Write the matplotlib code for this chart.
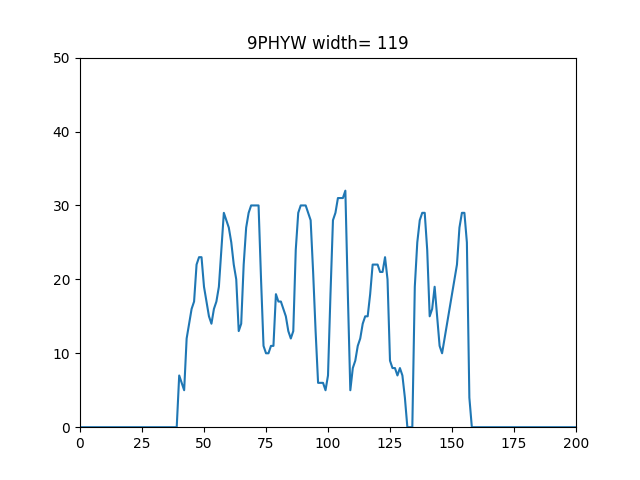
import numpy as np
import matplotlib
matplotlib.use("Agg")
import matplotlib.pyplot as plt

title = "9PHYW width= 119"

# profile values, x = 40 .. 157 (zero elsewhere)
start = 40
profile = [7, 6, 5, 12, 14, 16, 17, 22, 23, 23,
           19, 17, 15, 14, 16, 17, 19, 24, 29, 28,
           27, 25, 22, 20, 13, 14, 22, 27, 29, 30,
           30, 30, 30, 20, 11, 10, 10, 11, 11, 18,
           17, 17, 16, 15, 13, 12, 13, 24, 29, 30,
           30, 30, 29, 28, 21, 13, 6, 6, 6, 5,
           7, 18, 28, 29, 31, 31, 31, 32, 18, 5,
           8, 9, 11, 12, 14, 15, 15, 18, 22, 22,
           22, 21, 21, 23, 20, 9, 8, 8, 7, 8,
           7, 4, 0, 0, 0, 19, 25, 28, 29, 29,
           24, 15, 16, 19, 15, 11, 10, 12, 14, 16,
           18, 20, 22, 27, 29, 29, 25, 4]

x = np.arange(0, 201)
y = np.zeros(len(x))
y[start:start + len(profile)] = profile

fig, ax = plt.subplots(figsize=(6.4, 4.8), dpi=100)
ax.plot(x, y)
ax.set_title(title)
ax.set_xlim(0, 200)
ax.set_ylim(0, 50)

plt.savefig("out.png")
